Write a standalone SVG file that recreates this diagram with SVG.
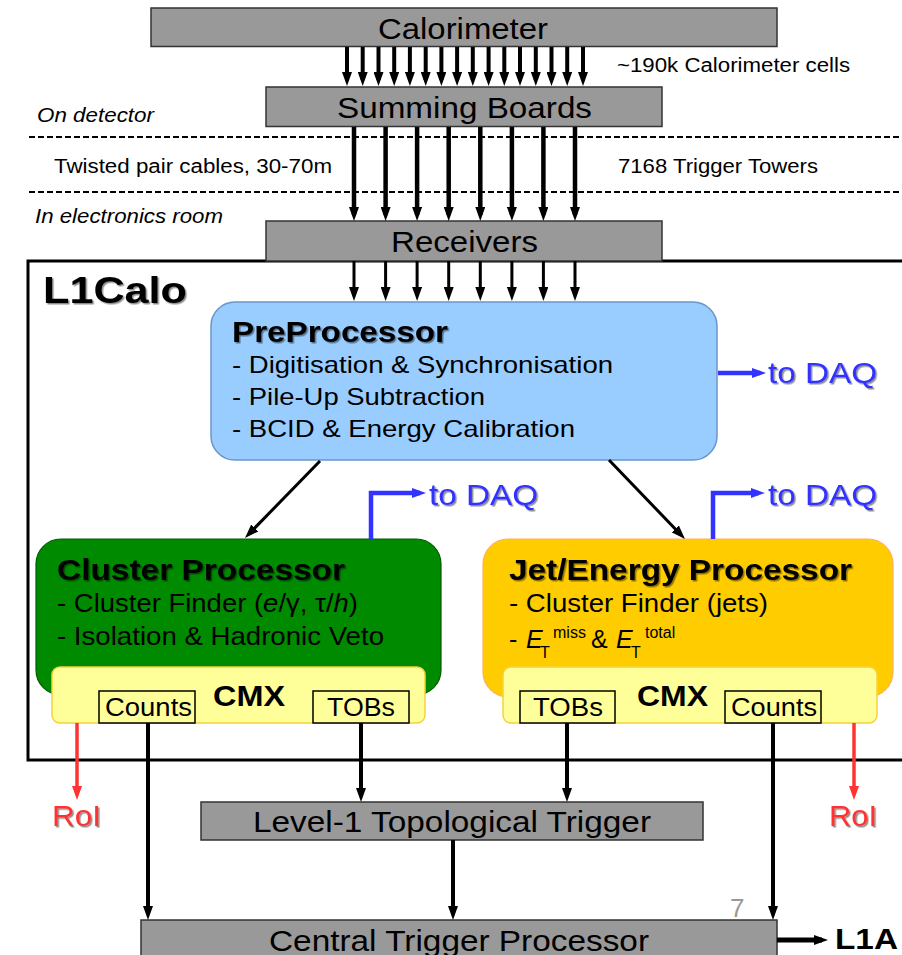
<svg xmlns="http://www.w3.org/2000/svg" width="902" height="955" viewBox="0 0 902 955">
  <style>
    text { font-family: "Liberation Sans", Arial, sans-serif; fill: #000; }
    .big { font-size: 29px; }
    .mid { font-size: 25px; }
    .pp { font-size: 24px; }
    .note { font-size: 20px; }
    .bold { font-weight: bold; }
    .it { font-style: italic; }
    .gray { fill: #999999; stroke: #333333; stroke-width: 1.5; }
    .daq { fill: #3333ff; font-size: 29px; }
    .roi { fill: #ff3333; font-size: 29px; }
    .tag { fill: #ffff99; stroke: #000; stroke-width: 1.5; }
    .cmx { fill: #ffff99; stroke: #f5d23c; stroke-width: 1.5; }
    .k { stroke: #000; fill: none; }
    .b { stroke: #3333ff; fill: none; stroke-width: 4.5; }
    .r { stroke: #ff3333; fill: none; stroke-width: 3.5; }
    .dash { stroke: #000; stroke-width: 2; stroke-dasharray: 6 3; }
  </style>
  <defs>
    <marker id="ah" viewBox="0 0 14 10" refX="8" refY="5" markerWidth="14" markerHeight="10" markerUnits="userSpaceOnUse" orient="auto">
      <path d="M0,0 L14,5 L0,10 z" fill="#000"/>
    </marker>
    <marker id="ahb" viewBox="0 0 14 10" refX="8" refY="5" markerWidth="14" markerHeight="10" markerUnits="userSpaceOnUse" orient="auto">
      <path d="M0,0 L14,5 L0,10 z" fill="#3333ff"/>
    </marker>
    <marker id="ahr" viewBox="0 0 14 10" refX="8" refY="5" markerWidth="14" markerHeight="10" markerUnits="userSpaceOnUse" orient="auto">
      <path d="M0,0 L14,5 L0,10 z" fill="#ff3333"/>
    </marker>
    <filter id="shadow" x="-10%" y="-20%" width="130%" height="150%">
      <feDropShadow dx="1.5" dy="1.5" stdDeviation="0.7" flood-color="#000" flood-opacity="0.45"/>
    </filter>
  </defs>

  <rect width="902" height="955" fill="#fff"/>

  <!-- detector / electronics room separators -->
  <line class="dash" x1="29" y1="137" x2="902" y2="137"/>
  <line class="dash" x1="29" y1="192" x2="902" y2="192"/>
  <text class="note it" x="37" y="122" textLength="117" lengthAdjust="spacingAndGlyphs">On detector</text>
  <text class="note" x="54" y="173" textLength="278" lengthAdjust="spacingAndGlyphs">Twisted pair cables, 30-70m</text>
  <text class="note" x="618" y="173" textLength="200" lengthAdjust="spacingAndGlyphs">7168 Trigger Towers</text>
  <text class="note it" x="35" y="223" textLength="188" lengthAdjust="spacingAndGlyphs">In electronics room</text>
  <text class="note" x="617" y="72" textLength="233" lengthAdjust="spacingAndGlyphs">~190k Calorimeter cells</text>

  <!-- L1Calo system boundary -->
  <g id="l1calo">
    <rect x="28" y="261" width="882" height="499" fill="none" stroke="#000" stroke-width="3"/>
    <text class="bold" x="43" y="303" font-size="36" textLength="144" lengthAdjust="spacingAndGlyphs" filter="url(#shadow)">L1Calo</text>
  </g>

  <g id="calorimeter">
    <rect class="gray" x="151" y="8" width="626" height="38.5"/>
    <text class="big" x="378" y="39" textLength="170" lengthAdjust="spacingAndGlyphs">Calorimeter</text>
  </g>

  <g id="summing-boards">
    <rect class="gray" x="266" y="87" width="396" height="39.5"/>
    <text class="big" x="337" y="118" textLength="255" lengthAdjust="spacingAndGlyphs">Summing Boards</text>
  </g>

  <g id="receivers">
    <rect class="gray" x="266" y="221" width="396" height="40"/>
    <text class="big" x="391" y="252" textLength="147" lengthAdjust="spacingAndGlyphs">Receivers</text>
  </g>

  <g id="preprocessor">
    <rect x="211" y="302" width="506" height="158" rx="24" fill="#99ccff" stroke="#6a96c8" stroke-width="1.5"/>
    <text class="bold" x="232" y="342" font-size="30" textLength="216" lengthAdjust="spacingAndGlyphs" filter="url(#shadow)">PreProcessor</text>
    <text class="pp" x="232" y="373" textLength="381" lengthAdjust="spacingAndGlyphs">- Digitisation &amp; Synchronisation</text>
    <text class="pp" x="232" y="405" textLength="253" lengthAdjust="spacingAndGlyphs">- Pile-Up Subtraction</text>
    <text class="pp" x="232" y="437" textLength="343" lengthAdjust="spacingAndGlyphs">- BCID &amp; Energy Calibration</text>
  </g>

  <g id="daq-labels">
    <text class="daq" x="768" y="383" textLength="109" lengthAdjust="spacingAndGlyphs" filter="url(#shadow)">to DAQ</text>
    <text class="daq" x="429" y="505" textLength="109" lengthAdjust="spacingAndGlyphs" filter="url(#shadow)">to DAQ</text>
    <text class="daq" x="768" y="505" textLength="109" lengthAdjust="spacingAndGlyphs" filter="url(#shadow)">to DAQ</text>
  </g>

  <g id="cluster-processor">
    <rect x="36" y="539" width="405" height="156" rx="25" fill="#008a00" stroke="#005a00" stroke-width="1.2"/>
    <text class="big bold" x="57" y="580" textLength="288" lengthAdjust="spacingAndGlyphs" filter="url(#shadow)">Cluster Processor</text>
    <text class="mid" x="57" y="612" textLength="301" lengthAdjust="spacingAndGlyphs">- Cluster Finder (<tspan class="it">e</tspan>/γ, τ/<tspan class="it">h</tspan>)</text>
    <text class="mid" x="57" y="645" textLength="327" lengthAdjust="spacingAndGlyphs">- Isolation &amp; Hadronic Veto</text>
    <rect class="cmx" x="52" y="667" width="373" height="56" rx="8"/>
    <text class="big bold" x="213" y="706" textLength="72" lengthAdjust="spacingAndGlyphs">CMX</text>
    <rect class="tag" x="99" y="691" width="96" height="32"/>
    <text x="105" y="716" font-size="26" textLength="87" lengthAdjust="spacingAndGlyphs">Counts</text>
    <rect class="tag" x="313" y="691" width="96" height="32"/>
    <text x="327" y="716" font-size="26" textLength="68" lengthAdjust="spacingAndGlyphs">TOBs</text>
  </g>

  <g id="jet-energy-processor">
    <rect x="483" y="539" width="410" height="158" rx="25" fill="#ffcc00" stroke="#ffb060" stroke-width="1.2"/>
    <text class="big bold" x="509" y="580" textLength="343" lengthAdjust="spacingAndGlyphs" filter="url(#shadow)">Jet/Energy Processor</text>
    <text class="mid" x="509" y="612" textLength="259" lengthAdjust="spacingAndGlyphs">- Cluster Finder (jets)</text>
    <!-- missing and total transverse energy, with sub- and superscripts -->
    <text class="mid" x="509" y="648">- <tspan class="it" x="526">E</tspan><tspan x="540" y="658" font-size="16">T</tspan><tspan x="553" y="638" font-size="16">miss</tspan><tspan x="591" y="648">&amp;</tspan><tspan class="it" x="616" y="648">E</tspan><tspan x="631" y="658" font-size="16">T</tspan><tspan x="645" y="638" font-size="16">total</tspan></text>
    <rect class="cmx" x="503" y="667" width="374" height="56" rx="8"/>
    <text class="big bold" x="637" y="706" textLength="71" lengthAdjust="spacingAndGlyphs">CMX</text>
    <rect class="tag" x="520" y="691" width="95" height="32"/>
    <text x="533" y="716" font-size="26" textLength="70" lengthAdjust="spacingAndGlyphs">TOBs</text>
    <rect class="tag" x="725" y="691" width="96" height="32"/>
    <text x="731" y="716" font-size="26" textLength="86" lengthAdjust="spacingAndGlyphs">Counts</text>
  </g>

  <g id="roi-labels">
    <text class="roi" x="52" y="826" textLength="49" lengthAdjust="spacingAndGlyphs" filter="url(#shadow)">RoI</text>
    <text class="roi" x="829" y="826" textLength="48" lengthAdjust="spacingAndGlyphs" filter="url(#shadow)">RoI</text>
  </g>

  <g id="topo-trigger">
    <rect class="gray" x="201" y="802" width="502" height="38"/>
    <text class="big" x="253" y="832" textLength="398" lengthAdjust="spacingAndGlyphs">Level-1 Topological Trigger</text>
  </g>

  <g id="ctp">
    <rect class="gray" x="141" y="920" width="636" height="45"/>
    <text class="big" x="269" y="951" textLength="380" lengthAdjust="spacingAndGlyphs">Central Trigger Processor</text>
  </g>

  <g id="l1a">
    <text class="bold" x="835" y="949" font-size="30" textLength="63" lengthAdjust="spacingAndGlyphs">L1A</text>
  </g>

  <text x="730" y="917" font-size="26" style="fill:#999999">7</text>

  <g id="connectors">
    <!-- calorimeter cells to summing boards -->
    <g class="k" stroke-width="4" marker-end="url(#ah)">
      <path d="M347,47 V80"/><path d="M362.7,47 V80"/><path d="M378.5,47 V80"/><path d="M394.2,47 V80"/>
      <path d="M409.9,47 V80"/><path d="M425.7,47 V80"/><path d="M441.4,47 V80"/><path d="M457.1,47 V80"/>
      <path d="M472.8,47 V80"/><path d="M488.6,47 V80"/><path d="M504.3,47 V80"/><path d="M520,47 V80"/>
      <path d="M535.8,47 V80"/><path d="M551.5,47 V80"/><path d="M567.2,47 V80"/><path d="M583,47 V80"/>
    </g>
    <!-- trigger towers over twisted pair cables -->
    <g class="k" stroke-width="4.5" marker-end="url(#ah)">
      <path d="M354,127 V215"/><path d="M385.6,127 V215"/><path d="M417.1,127 V215"/><path d="M448.7,127 V215"/>
      <path d="M480.3,127 V215"/><path d="M511.9,127 V215"/><path d="M543.4,127 V215"/><path d="M575,127 V215"/>
    </g>
    <!-- receivers to preprocessor -->
    <g class="k" stroke-width="3" marker-end="url(#ah)">
      <path d="M354,261 V295"/><path d="M385.6,261 V295"/><path d="M417.1,261 V295"/><path d="M448.7,261 V295"/>
      <path d="M480.3,261 V295"/><path d="M511.9,261 V295"/><path d="M543.4,261 V295"/><path d="M575,261 V295"/>
    </g>
    <!-- preprocessor to CP and JEP -->
    <path class="k" stroke-width="3" d="M320,461 L249.2,533.7" marker-end="url(#ah)"/>
    <path class="k" stroke-width="3" d="M609,460 L680.8,534.7" marker-end="url(#ah)"/>
    <!-- readout to DAQ -->
    <path class="b" d="M718,373 H760" marker-end="url(#ahb)"/>
    <path class="b" d="M371,539 V493 H420" marker-end="url(#ahb)"/>
    <path class="b" d="M713,539 V493 H759" marker-end="url(#ahb)"/>
    <!-- regions of interest -->
    <path class="r" d="M77,723 V794" marker-end="url(#ahr)"/>
    <path class="r" d="M854,723 V794" marker-end="url(#ahr)"/>
    <!-- CMX outputs -->
    <path class="k" stroke-width="4" d="M148,723 V914" marker-end="url(#ah)"/>
    <path class="k" stroke-width="4" d="M361,723 V796" marker-end="url(#ah)"/>
    <path class="k" stroke-width="4" d="M567,723 V796" marker-end="url(#ah)"/>
    <path class="k" stroke-width="4" d="M773,723 V914" marker-end="url(#ah)"/>
    <path class="k" stroke-width="4" d="M453,840 V914" marker-end="url(#ah)"/>
    <!-- level-1 accept -->
    <path class="k" stroke-width="5" d="M777,940 H822" marker-end="url(#ah)"/>
  </g>
</svg>
